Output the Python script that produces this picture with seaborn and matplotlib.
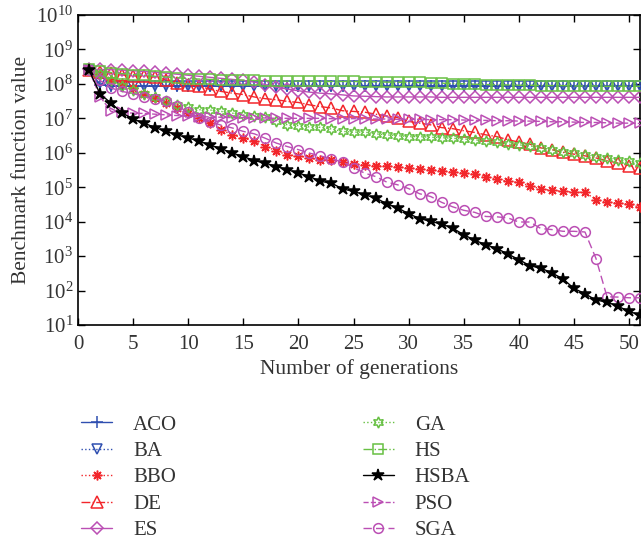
import numpy as np
import seaborn as sns
import matplotlib
matplotlib.use("Agg")
import matplotlib.pyplot as plt

# generations 1..51, values as log10 of the benchmark value
generations = list(range(1, 52))

aco_log10 = [8.40, 7.98] + [7.93] * 49
ba_log10 = [8.40, 8.02] + [7.95] * 49
bbo_log10 = [8.40, 8.30, 8.12, 8.02, 7.88, 7.72, 7.58, 7.44, 7.30, 7.15,
             7.00, 6.86, 6.67, 6.52, 6.43, 6.33, 6.18, 6.06, 5.93, 5.92,
             5.84, 5.80, 5.78, 5.72, 5.68, 5.64, 5.63, 5.62, 5.59, 5.56,
             5.53, 5.51, 5.48, 5.44, 5.42, 5.37, 5.31, 5.24, 5.17, 5.14,
             5.04, 4.95, 4.91, 4.88, 4.86, 4.85, 4.64, 4.57, 4.54, 4.51,
             4.42]
de_log10 = [8.40, 8.35, 8.31, 8.26, 8.24, 8.22, 8.20, 8.12, 8.03, 7.98,
            7.94, 7.84, 7.78, 7.73, 7.69, 7.62, 7.57, 7.54, 7.49, 7.46,
            7.39, 7.34, 7.30, 7.22, 7.20, 7.18, 7.12, 7.07, 7.02, 6.91,
            6.86, 6.81, 6.73, 6.70, 6.64, 6.59, 6.52, 6.47, 6.38, 6.31,
            6.25, 6.14, 6.09, 6.01, 5.96, 5.91, 5.85, 5.77, 5.70, 5.63,
            5.56]
es_log10 = [8.42, 8.42, 8.41, 8.40, 8.38, 8.36, 8.34, 8.31, 8.28, 8.25,
            8.22, 8.19, 8.16, 8.13, 8.10, 8.05, 7.98, 7.90, 7.85, 7.80,
            7.76, 7.73, 7.71, 7.68, 7.65, 7.64, 7.63, 7.62, 7.62, 7.62,
            7.62, 7.62, 7.61, 7.61, 7.61, 7.61, 7.61, 7.61, 7.61, 7.61,
            7.61, 7.61, 7.61, 7.61, 7.61, 7.61, 7.61, 7.61, 7.61, 7.61,
            7.61]
ga_log10 = [8.40, 8.30, 8.12, 7.95, 7.83, 7.72, 7.62, 7.49, 7.39, 7.34,
            7.25, 7.24, 7.20, 7.15, 7.10, 7.07, 7.03, 6.93, 6.81, 6.79,
            6.75, 6.74, 6.69, 6.62, 6.60, 6.60, 6.55, 6.52, 6.50, 6.47,
            6.47, 6.45, 6.44, 6.42, 6.40, 6.38, 6.33, 6.31, 6.25, 6.23,
            6.20, 6.14, 6.09, 6.02, 6.00, 5.94, 5.89, 5.85, 5.80, 5.75,
            5.70]
hs_log10 = [8.42, 8.38, 8.33, 8.30, 8.27, 8.25, 8.22, 8.20, 8.18, 8.15,
            8.14, 8.13, 8.12, 8.12, 8.11, 8.10, 8.09, 8.09, 8.08, 8.08,
            8.08, 8.07, 8.07, 8.07, 8.07, 8.06, 8.06, 8.05, 8.05, 8.04,
            8.04, 8.03, 8.02, 8.01, 8.00, 7.99, 7.98, 7.97, 7.97, 7.96,
            7.96, 7.95, 7.95, 7.95, 7.94, 7.94, 7.94, 7.93, 7.93, 7.93,
            7.93]
hsba_log10 = [8.40, 7.71, 7.44, 7.16, 6.98, 6.86, 6.73, 6.62, 6.52, 6.43,
              6.34, 6.22, 6.12, 5.99, 5.89, 5.77, 5.70, 5.60, 5.51, 5.41,
              5.31, 5.17, 5.12, 4.95, 4.88, 4.78, 4.69, 4.52, 4.40, 4.23,
              4.09, 4.01, 3.93, 3.81, 3.62, 3.46, 3.33, 3.22, 3.06, 2.90,
              2.72, 2.65, 2.51, 2.34, 2.06, 1.91, 1.72, 1.67, 1.54, 1.40,
              1.28]
pso_log10 = [8.40, 7.63, 7.20, 7.17, 7.15, 7.14, 7.12, 7.10, 7.08, 7.06,
             7.05, 7.04, 7.03, 7.02, 7.02, 7.01, 7.01, 7.00, 7.00, 7.00,
             7.00, 7.00, 6.99, 6.99, 6.99, 6.98, 6.98, 6.98, 6.97, 6.97,
             6.97, 6.96, 6.96, 6.96, 6.95, 6.94, 6.94, 6.93, 6.93, 6.92,
             6.92, 6.91, 6.90, 6.90, 6.89, 6.88, 6.88, 6.87, 6.86, 6.86,
             6.85]
sga_log10 = [8.40, 8.10, 7.88, 7.78, 7.72, 7.63, 7.56, 7.49, 7.36, 7.18,
             7.02, 6.90, 6.80, 6.72, 6.62, 6.55, 6.42, 6.28, 6.18, 6.09,
             5.99, 5.91, 5.82, 5.73, 5.57, 5.41, 5.31, 5.15, 5.07, 4.96,
             4.81, 4.73, 4.56, 4.43, 4.33, 4.27, 4.15, 4.14, 4.11, 3.99,
             3.99, 3.80, 3.77, 3.72, 3.72, 3.70, 2.93, 1.82, 1.81, 1.79,
             1.79]

names = ["ACO", "BA", "BBO", "DE", "ES", "GA", "HS", "HSBA", "PSO", "SGA"]
series = [aco_log10, ba_log10, bbo_log10, de_log10, es_log10,
          ga_log10, hs_log10, hsba_log10, pso_log10, sga_log10]

blue = "#2f4fb0"
red = "#f2262b"
magenta = "#bb4fb4"
green = "#67c043"
text_col = "#333333"

# color, linestyle, marker, filled, marker size
styles = {
    "ACO": (blue, "-", "+", True, 8),
    "BA": (blue, ":", "v", False, 7),
    "BBO": (red, ":", (8, 2, 0), True, 7),
    "DE": (red, "-.", "^", False, 8),
    "ES": (magenta, "-", "D", False, 6),
    "GA": (green, ":", (6, 1, 0), False, 8),
    "HS": (green, "-.", "s", False, 7),
    "HSBA": ("black", "-", "*", True, 9),
    "PSO": (magenta, "--", ">", False, 7),
    "SGA": (magenta, (0, (6, 3)), "o", False, 7),
}

sns.set_style("ticks")
plt.rcParams["font.family"] = ["Liberation Serif", "DejaVu Serif"]
plt.rcParams["mathtext.fontset"] = "stix"

fig = plt.figure(figsize=(6.42, 5.45), dpi=100)
ax = fig.add_axes([0.1215, 0.4037, 0.8755, 0.5688])

for name, vals in zip(names, series):
    color, ls, marker, filled, ms = styles[name]
    sns.lineplot(x=generations, y=10 ** np.array(vals), ax=ax, label=name,
                 color=color, linestyle=ls, linewidth=1.0, marker=marker,
                 markersize=ms, markeredgewidth=1.1, markeredgecolor=color,
                 markerfacecolor=color if filled else "none",
                 zorder=5 if name == "HSBA" else 3)

ax.set_yscale("log")
ax.set_ylim(10, 1e10)
ax.set_xlim(0, 51)
ax.set_xticks(range(0, 51, 5))
ax.set_yticks([10 ** k for k in range(1, 11)])
ax.set_xlabel("Number of generations", fontsize=15.5, labelpad=4,
              color=text_col)
ax.set_ylabel("Benchmark function value", fontsize=15.5, labelpad=4,
              color=text_col)
ax.tick_params(which="both", direction="in", top=True, right=True,
               labelsize=15, colors="black", labelcolor=text_col)
ax.tick_params(axis="x", which="major", pad=7)
ax.tick_params(which="major", length=5, width=1)
ax.tick_params(which="minor", length=2.5, width=0.8)
for s in ax.spines.values():
    s.set_color("black")
    s.set_linewidth(1.2)

ax.legend_.remove()
handles, labels = ax.get_legend_handles_labels()
leg = fig.legend(handles, labels, loc="upper left",
                 bbox_to_anchor=(0.097, 0.273), ncol=2, frameon=False,
                 fontsize=15, handlelength=1.5, handletextpad=1.0,
                 columnspacing=8.9, labelspacing=0.33)
for t in leg.get_texts():
    t.set_color(text_col)

fig.savefig("out.png", dpi=100)
